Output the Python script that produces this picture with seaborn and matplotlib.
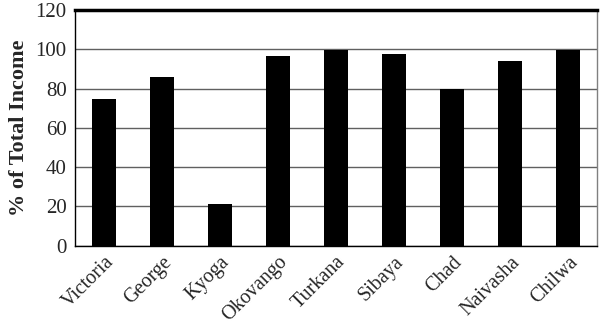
import matplotlib
matplotlib.use("Agg")
import matplotlib.pyplot as plt
import seaborn as sns
import numpy as np
import pandas as pd

lakes = ["Victoria", "George", "Kyoga", "Okovango", "Turkana", "Sibaya", "Chad", "Naivasha", "Chilwa"]
income_pct = [74.5, 86, 21, 96.5, 99.5, 97.5, 80, 94, 99.5]
y_ticks = [0, 20, 40, 60, 80, 100, 120]

sns.set_style("white")
plt.rcParams["font.family"] = ["Liberation Serif", "DejaVu Serif"]

df = pd.DataFrame({"lake": lakes, "pct": income_pct})

fig = plt.figure(figsize=(6.0, 3.33), dpi=100)
ax = fig.add_axes([0.125, 0.262, 0.87, 0.708])
sns.barplot(data=df, x="lake", y="pct", color="black", width=0.4, ax=ax,
            saturation=1, edgecolor="black", linewidth=0)

ax.set_ylim(0, 120)
ax.set_xlim(-0.5, len(lakes) - 0.5)
ax.set_yticks(y_ticks)
ax.set_yticklabels([str(v) for v in y_ticks], fontsize=15)
ax.yaxis.grid(True, color="#606060", linewidth=1)
ax.set_axisbelow(True)

ax.set_xticks(range(len(lakes)))
ax.set_xticklabels(lakes, rotation=45, ha="right", rotation_mode="anchor", fontsize=14.5)
ax.tick_params(axis="x", length=0, pad=5)
ax.set_xticks(np.arange(-0.5, len(lakes), 1.0), minor=True)
ax.tick_params(axis="x", which="minor", length=4, width=1, color="black", direction="out")
ax.tick_params(axis="y", length=4, width=1, color="black", direction="out", pad=2)

ax.set_xlabel("")
ax.set_ylabel("% of Total Income", fontsize=16, fontweight="bold", labelpad=5)

for side in ["left", "bottom", "right"]:
    ax.spines[side].set_visible(True)
    ax.spines[side].set_color("black")
    ax.spines[side].set_linewidth(1)
ax.spines["right"].set_color("#808080")
ax.spines["top"].set_visible(True)
ax.spines["top"].set_color("black")
ax.spines["top"].set_linewidth(2.5)

fig.savefig("out.png", dpi=100)
